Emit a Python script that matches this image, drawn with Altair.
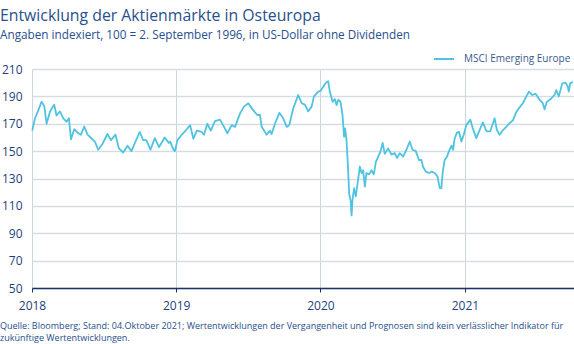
import altair as alt
import pandas as pd
import numpy as np

# Time positions (years since 1 Jan 2018) and index values
t = [0.002, 0.021, 0.044, 0.066, 0.085, 0.101, 0.125, 0.154, 0.170, 0.194,
     0.217, 0.239, 0.256, 0.270, 0.293, 0.316, 0.339, 0.362, 0.385, 0.412,
     0.436, 0.459, 0.487, 0.523, 0.547, 0.579, 0.602, 0.632, 0.662, 0.689,
     0.717, 0.747, 0.770, 0.793, 0.821, 0.851, 0.881, 0.920, 0.948, 0.957,
     0.980, 0.990, 1.008, 1.038, 1.068, 1.096, 1.118, 1.142, 1.176, 1.192,
     1.215, 1.239, 1.268, 1.303, 1.331, 1.354, 1.384, 1.407, 1.442, 1.469,
     1.499, 1.529, 1.561, 1.580, 1.592, 1.608, 1.626, 1.649, 1.661, 1.684,
     1.714, 1.741, 1.765, 1.783, 1.810, 1.845, 1.869, 1.891, 1.914, 1.938,
     1.954, 1.983, 2.000, 2.018, 2.037, 2.053, 2.064, 2.083, 2.099, 2.111,
     2.122, 2.138, 2.152, 2.163, 2.170, 2.180, 2.191, 2.198, 2.208, 2.215,
     2.221, 2.232, 2.244, 2.256, 2.272, 2.284, 2.295, 2.307, 2.318, 2.336,
     2.353, 2.369, 2.383, 2.399, 2.416, 2.430, 2.445, 2.468, 2.491, 2.514,
     2.530, 2.549, 2.572, 2.595, 2.618, 2.637, 2.660, 2.682, 2.699, 2.710,
     2.729, 2.752, 2.768, 2.791, 2.810, 2.826, 2.837, 2.848, 2.860, 2.876,
     2.890, 2.907, 2.918, 2.929, 2.945, 2.960, 2.976, 2.992, 3.010, 3.038,
     3.055, 3.079, 3.102, 3.125, 3.149, 3.176, 3.206, 3.222, 3.241, 3.264,
     3.287, 3.305, 3.333, 3.356, 3.379, 3.402, 3.426, 3.444, 3.467, 3.490,
     3.518, 3.540, 3.552, 3.568, 3.599, 3.621, 3.633, 3.651, 3.675, 3.698,
     3.714, 3.720, 3.730, 3.748]

values = [165, 174, 180, 186, 183, 170, 179, 184, 176, 179,
          174, 171.5, 174, 158.6, 166, 163.5, 162, 168, 162, 159.4,
          157, 151, 155, 162.5, 158, 162, 152, 149, 154, 150,
          157, 164, 158, 158, 151, 159.5, 153, 160, 156, 157,
          151.3, 150, 158, 162, 165.4, 169, 159, 165, 164, 162,
          170, 165, 172, 173, 167.7, 163, 169, 167.7, 177.6, 182.5,
          185, 180.5, 176.4, 176.4, 167.7, 165, 162, 165, 162.5, 170,
          178, 174, 167.7, 169, 181, 191, 185, 184, 179, 182.5,
          190, 193.4, 194, 197, 200, 201, 193.5, 186, 188, 183.6,
          187.5, 186, 176.4, 160.5, 166.6, 158, 136, 119, 114, 103,
          114, 123, 117, 126, 138.6, 134, 136, 124, 134, 133,
          136, 133, 142, 145.8, 150, 156, 148, 152, 147.5, 148.5,
          145, 148.5, 146, 151, 157, 151, 150, 143.5, 143.5, 138.6,
          135, 134, 135, 134, 131.5, 123, 123, 136, 143.5, 146,
          150, 154, 151, 159, 163.5, 164, 157, 162, 169, 173,
          166.6, 159.5, 165.4, 171, 164.5, 164.5, 174, 165.4, 162, 165.4,
          167.7, 170, 172.5, 178.5, 182, 185, 190, 193.5, 191, 192,
          187.5, 185, 180.5, 186, 188.5, 191, 194.5, 190, 199.5, 200,
          197, 193.5, 199.5, 200.7]

series_name = "MSCI Emerging Europe"
y_ticks = [50, 70, 90, 110, 130, 150, 170, 190, 210]

title_text = "Entwicklung der Aktienmärkte in Osteuropa"
subtitle_text = "Angaben indexiert, 100 = 2. September 1996, in US-Dollar ohne Dividenden"
foot_lines = ["Quelle: Bloomberg; Stand: 04.Oktober 2021; Wertentwicklungen der Vergangenheit und Prognosen sind kein verlässlicher Indikator für",
              "zukünftige Wertentwicklungen."]

dates = pd.Timestamp("2018-01-01") + pd.to_timedelta(np.array(t) * 365.25, unit="D")
df = pd.DataFrame({"date": dates.strftime("%Y-%m-%dT%H:%M"), "value": values, "series": series_name})

FONT = "Open Sans"
LINE = "#4fc3e0"
TXT = "#1f3f7a"

line = alt.Chart(df).mark_line(strokeWidth=1.8, strokeJoin="round").encode(
    x=alt.X("date:T",
            scale=alt.Scale(domain=[alt.DateTime(year=2018, month=1, date=1),
                                    alt.DateTime(year=2021, month=10, date=4)]),
            axis=alt.Axis(title=None, format="%Y", tickCount={"interval": "year", "step": 1},
                          grid=True, gridColor="#c9d6de", gridWidth=1,
                          domainColor="#1b3366", domainWidth=1.6,
                          tickColor="#1b3366", tickSize=4, tickWidth=1,
                          labelFont=FONT, labelFontSize=12, labelColor=TXT,
                          labelPadding=8, labelFlush=False)),
    y=alt.Y("value:Q", scale=alt.Scale(domain=[50, 210], nice=False),
            axis=alt.Axis(title=None, values=y_ticks, grid=True, gridColor="#d5dde2",
                          gridWidth=1.6, domain=False, ticks=False,
                          labelFont=FONT, labelFontSize=12, labelColor=TXT,
                          labelPadding=10, minExtent=32, maxExtent=32)),
    color=alt.Color("series:N", scale=alt.Scale(range=[LINE]),
                    legend=alt.Legend(title=None, orient="none", legendX=401, legendY=-21,
                                      symbolType="stroke", symbolSize=400, symbolStrokeWidth=2,
                                      labelOffset=9, padding=0, labelLimit=200,
                                      labelFont=FONT, labelFontSize=10, labelColor="#3a5a8c"))
)

one = pd.DataFrame({"k": [0]})

title = alt.Chart(one).mark_text(align="left", baseline="middle", font=FONT, fontSize=15.8,
                                 color="#28508e").encode(
    x=alt.value(-32), y=alt.value(-53), text=alt.value(title_text))
subtitle = alt.Chart(one).mark_text(align="left", baseline="middle", font=FONT, fontSize=11.75,
                                    color="#28508e").encode(
    x=alt.value(-32), y=alt.value(-34), text=alt.value(subtitle_text))
foot1 = alt.Chart(one).mark_text(align="left", baseline="middle", font=FONT, fontSize=9,
                                 color="#1f4e8c").encode(
    x=alt.value(-32), y=alt.value(257), text=alt.value(foot_lines[0]))
foot2 = alt.Chart(one).mark_text(align="left", baseline="middle", font=FONT, fontSize=9,
                                 color="#1f4e8c").encode(
    x=alt.value(-32), y=alt.value(269), text=alt.value(foot_lines[1]))

chart = alt.layer(line, title, subtitle, foot1, foot2).properties(
    width=542, height=219,
    autosize=alt.AutoSizeParams(type="none"),
    padding={"left": 32, "top": 69, "right": 0, "bottom": 56},
    background="white"
).configure_view(stroke=None)

chart.save("out.html", embed_options={"renderer": "svg", "actions": False})
